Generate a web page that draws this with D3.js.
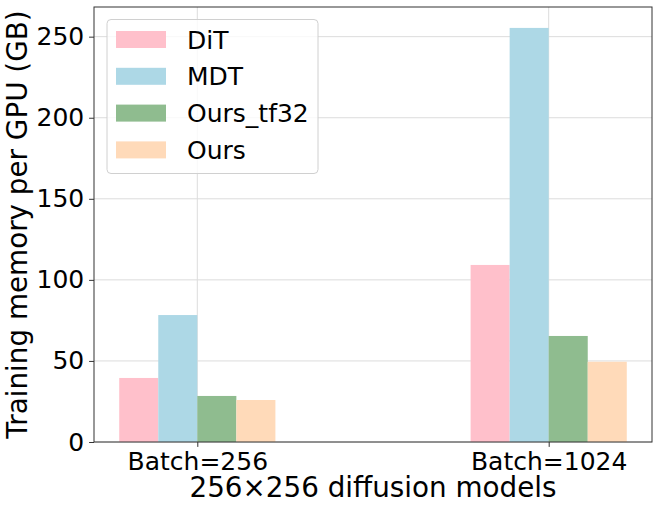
<!DOCTYPE html>
<html><head><meta charset="utf-8">
<script src="https://cdn.jsdelivr.net/npm/d3@7"></script>
<style>body{margin:0;background:#fff}svg{display:block}text{font-family:"DejaVu Sans",sans-serif}</style>
</head><body>
<svg id="c" width="659" height="512"></svg>
<script>
const categories = ["Batch=256", "Batch=1024"];
const seriesNames = ["DiT", "MDT", "Ours_tf32", "Ours"];
const DiT = [39.5, 109.2];
const MDT = [78.3, 255.4];
const Ours_tf32 = [28.4, 65.4];
const Ours = [25.9, 49.5];
const yTicks = [0, 50, 100, 150, 200, 250];
const colors = ["#FFC0CB", "#ADD8E6", "#8FBC8F", "#FFDAB9"];
const series = [DiT, MDT, Ours_tf32, Ours];

const svg = d3.select("#c");
const L = 94, R = 652, T = 7, B = 442;
const x = d3.scaleLinear().domain([-0.294, 1.294]).range([L, R]);
const y = d3.scaleLinear().domain([0, 268.3]).range([B, T]);
const bw = 1/9;

// grid
const g = svg.append("g");
g.selectAll("line.h").data(yTicks).join("line")
  .attr("x1", L).attr("x2", R).attr("y1", d => y(d)).attr("y2", d => y(d))
  .attr("stroke", "#dcdcdc").attr("stroke-width", 1);
g.selectAll("line.v").data(categories).join("line")
  .attr("x1", (d,i) => x(i)).attr("x2", (d,i) => x(i)).attr("y1", T).attr("y2", B)
  .attr("stroke", "#dcdcdc").attr("stroke-width", 1);

// bars
series.forEach((s, k) => {
  svg.append("g").selectAll("rect").data(s).join("rect")
    .attr("x", (d,i) => x(i + (k-2)*bw))
    .attr("width", (d,i) => x(i + (k-1)*bw) - x(i + (k-2)*bw))
    .attr("y", d => y(d)).attr("height", d => B - y(d))
    .attr("fill", colors[k]);
});

// axes
const yAxis = d3.axisLeft(y).tickValues(yTicks).tickSize(4.9).tickPadding(4.9);
const ya = svg.append("g").attr("transform", `translate(${L},0)`).call(yAxis);
ya.select(".domain").remove();
ya.selectAll("text").attr("font-size", 25).attr("fill", "#000");
ya.selectAll("line").attr("stroke", "#333");

const xAxis = d3.axisBottom(x).tickValues([0,1]).tickFormat((d,i) => categories[i]).tickSize(4.9).tickPadding(4.9);
const xa = svg.append("g").attr("transform", `translate(0,${B})`).call(xAxis);
xa.select(".domain").remove();
xa.selectAll("text").attr("font-size", 25).attr("fill", "#000");
xa.selectAll("line").attr("stroke", "#333");

// frame
svg.append("rect").attr("x", L).attr("y", T).attr("width", R-L).attr("height", B-T)
  .attr("fill", "none").attr("stroke", "#333").attr("stroke-width", 1);

// labels
svg.append("text").attr("x", (L+R)/2).attr("y", 497).attr("text-anchor", "middle")
  .attr("font-size", 27.8).text("256×256 diffusion models");
svg.append("text").attr("transform", `translate(26.5,${(T+B)/2}) rotate(-90)`).attr("text-anchor", "middle")
  .attr("font-size", 27.8).text("Training memory per GPU (GB)");

// legend
const lg = svg.append("g");
lg.append("rect").attr("x", 107).attr("y", 19.5).attr("width", 211).attr("height", 154).attr("rx", 4)
  .attr("fill", "#fff").attr("fill-opacity", 0.8).attr("stroke", "#d0d0d0").attr("stroke-width", 1);
seriesNames.forEach((n, k) => {
  const cy = 39.5 + k*36.8;
  lg.append("rect").attr("x", 116).attr("y", cy - 8.5).attr("width", 50).attr("height", 17).attr("fill", colors[k]);
  lg.append("text").attr("x", 187).attr("y", cy).attr("dy", "0.36em").attr("font-size", 25).text(n);
});
</script>
</body></html>
